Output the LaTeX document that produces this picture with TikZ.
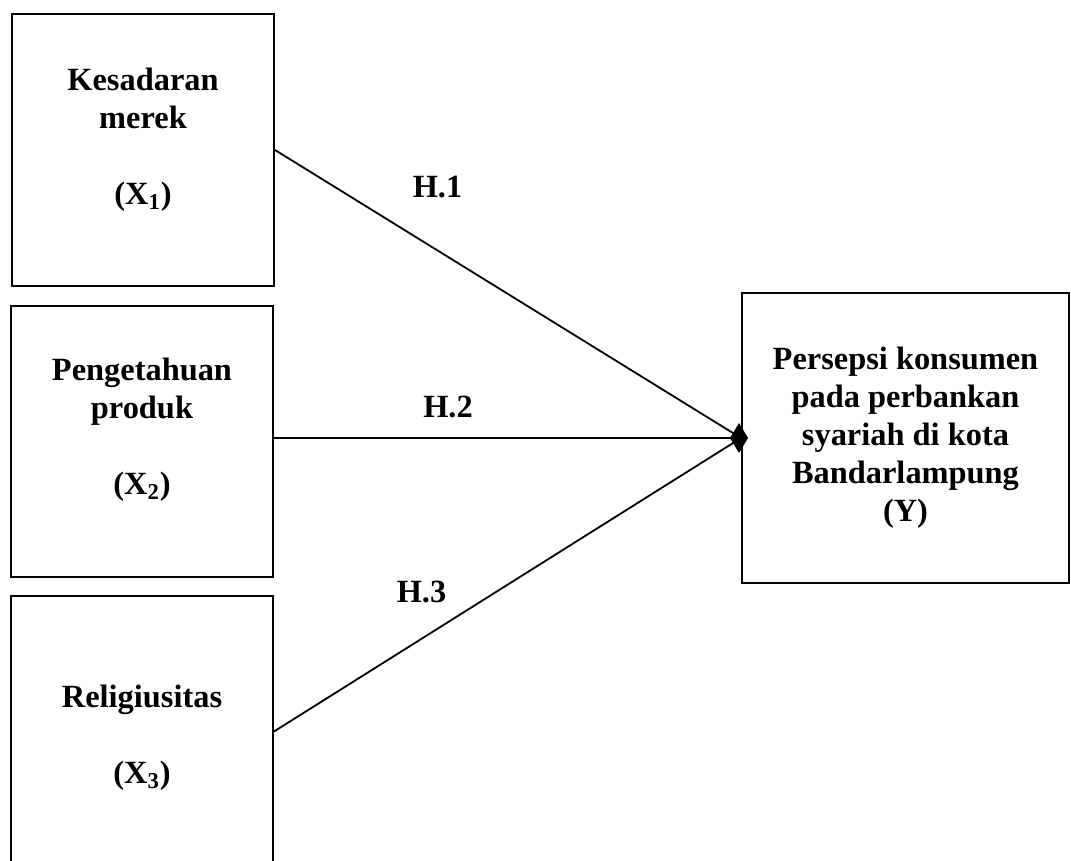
\documentclass[tikz,border=0pt]{standalone}
\usepackage{fontspec}
\setmainfont{Liberation Serif}
\usetikzlibrary{arrows.meta}
\begin{document}
\begin{tikzpicture}[x=0.5pt,y=-0.5pt,
  box/.style={draw=black,line width=1pt,inner sep=0pt,minimum width=131pt,minimum height=136pt},
  ybox/.style={draw=black,line width=1pt,inner sep=0pt,minimum width=163.5pt,minimum height=145pt,align=center,font=\fontsize{16.2}{19}\selectfont\bfseries},
  lbl/.style={align=center,inner sep=0pt,font=\fontsize{16.2}{19}\selectfont\bfseries},
  hyp/.style={inner sep=0pt,anchor=base,font=\fontsize{16.2}{19}\selectfont\bfseries},
  conn/.style={line width=0.9pt,draw=black}]
\useasboundingbox (0,0) rectangle (1071,861);
\fill[white] (0,0) rectangle (1071,861);

\node[box] (b1) at (143,150) {};
\node[box,minimum height=135.5pt] (b2) at (142,441.5) {};
\node[box,minimum height=135.5pt] (b3) at (142,731.5) {};
\node[ybox] (y) at (905.5,438) {Persepsi konsumen\\pada perbankan\\syariah di kota\\Bandarlampung\\(Y)};

\node[lbl] (t1) at (143,140) {Kesadaran\\merek\\~\\(X\textsubscript{1})};
\node[lbl] (t2) at (142,430) {Pengetahuan\\produk\\~\\(X\textsubscript{2})};
\node[lbl] (t3) at (142,738) {Religiusitas\\~\\(X\textsubscript{3})};

\draw[conn] (b1.east) -- (y.west);
\draw[conn] (b3.east) -- (y.west);
\draw[conn,-{Diamond[length=9pt,width=15pt]},shorten >=-3.5pt] (b2.east |- y.west) -- (y.west);

\node[hyp] (h1) at (437.5,198) {H.1};
\node[hyp] (h2) at (448,417) {H.2};
\node[hyp] (h3) at (421.5,602) {H.3};
\end{tikzpicture}
\end{document}
